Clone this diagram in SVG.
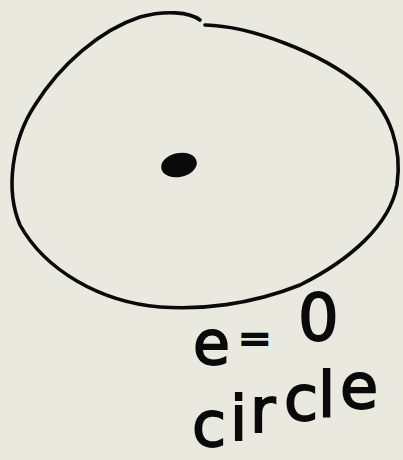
<svg xmlns="http://www.w3.org/2000/svg" width="403" height="460" viewBox="0 0 403 460">
<style>
.ink{fill:none;stroke:#0a0a0a;stroke-width:3.6;stroke-linecap:round;stroke-linejoin:round}
.hand{font-family:"DejaVu Sans",sans-serif;fill:#0a0a0a;stroke:#0a0a0a;stroke-width:1.8}
</style>
<rect width="403" height="460" fill="#e9e9df"/>
<g id="orbit">
<path class="ink" d="M205,25 C250,26 320,52 360,85 C392,112 402,150 397,185 C390,225 350,260 300,285 C250,305 200,310 160,307 C100,302 45,270 20,225 C5,190 12,140 35,105 C60,65 100,30 140,17 C165,10 190,12 200,20"/>
</g>
<g id="focus">
<ellipse cx="179" cy="165" rx="18" ry="12" transform="rotate(-12 179 165)" fill="#0a0a0a"/>
</g>
<g id="label">
<text class="hand" font-size="60"><tspan x="193" y="364">e</tspan><tspan x="238" y="352" font-size="40">=</tspan><tspan x="298" y="340" font-size="64">0</tspan></text>
<text class="hand" font-size="62"><tspan x="192" y="446">c</tspan><tspan x="230" y="440">i</tspan><tspan x="250" y="432">r</tspan><tspan x="284" y="420">c</tspan><tspan x="318" y="416">l</tspan><tspan x="340" y="408">e</tspan></text>
</g>
</svg>
